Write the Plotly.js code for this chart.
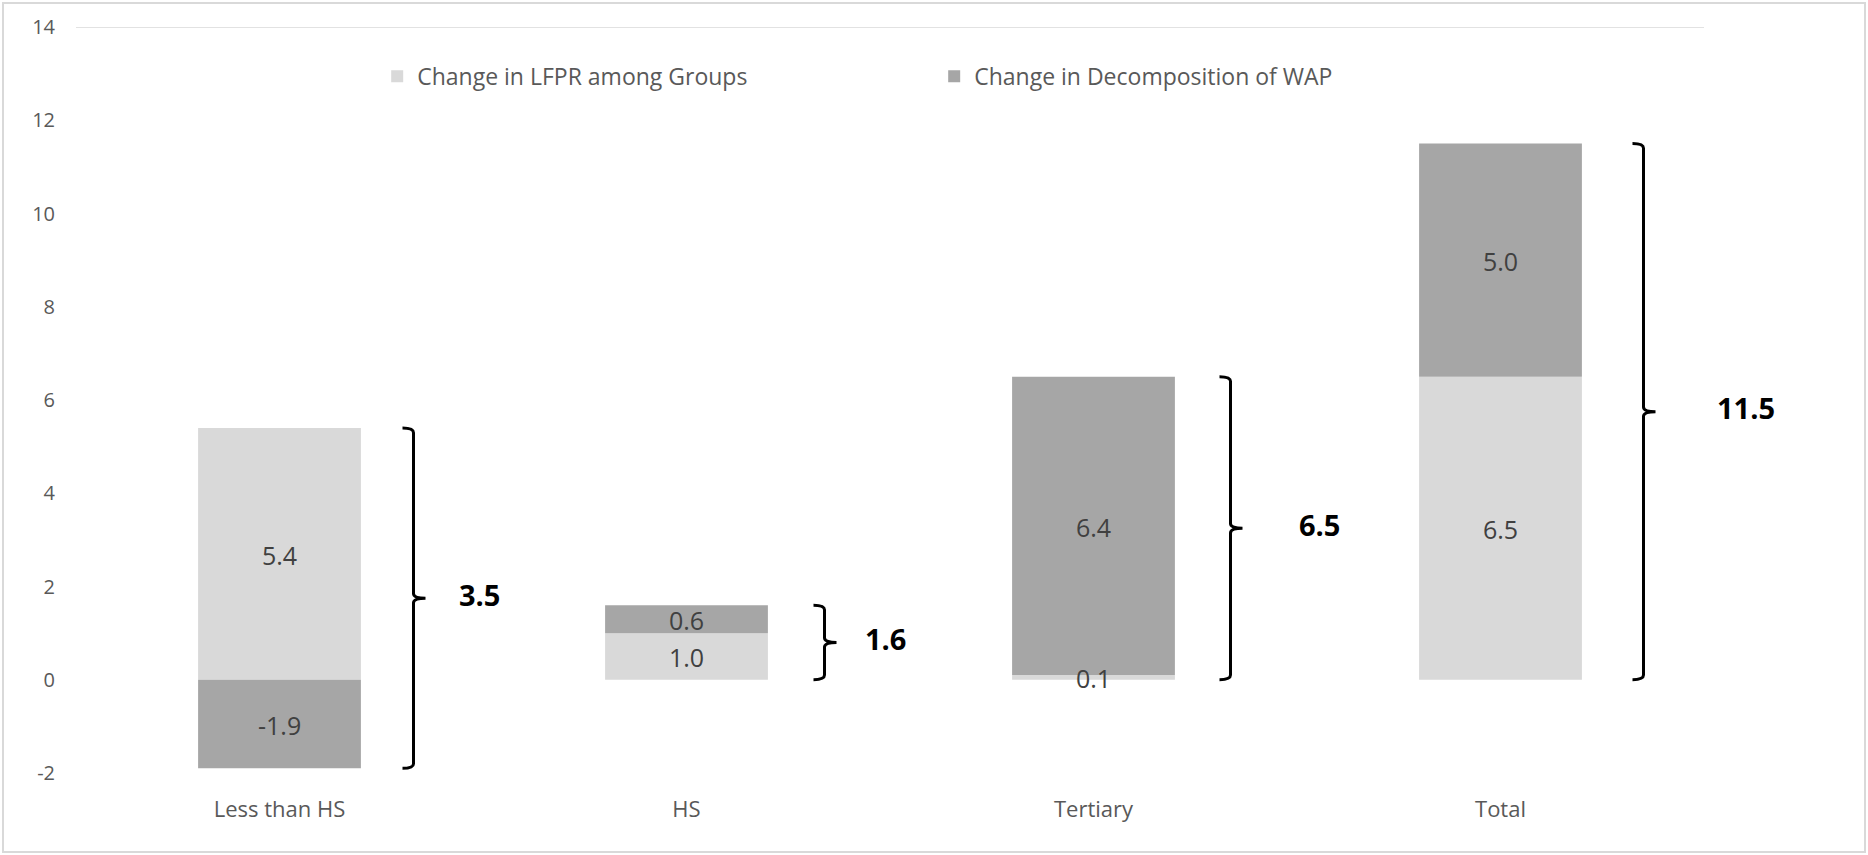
<!DOCTYPE html>
<html>
<head>
<meta charset="utf-8">
<script src="https://cdn.plot.ly/plotly-3.0.1.min.js"></script>
<style>
  html, body { margin: 0; padding: 0; background: #ffffff; }
  #wrap { position: relative; width: 1868px; height: 855px; }
  #chart { width: 1868px; height: 855px; }
  #frame { position: absolute; left: 2px; top: 2px; right: 2px; bottom: 2px;
           border: 2px solid #d9d9d9; pointer-events: none; box-sizing: border-box; }
</style>
</head>
<body>
<div id="wrap">
  <div id="chart"></div>
  <div id="frame"></div>
</div>
<script>
// ---- data ----
const categories = ["Less than HS", "HS", "Tertiary", "Total"];
const lfprChange = [5.4, 1.0, 0.1, 6.5];   // Change in LFPR among Groups
const wapChange  = [-1.9, 0.6, 6.4, 5.0];  // Change in Decomposition of WAP
const totals     = [3.5, 1.6, 6.5, 11.5];  // bracket totals
const seriesNames = ["Change in LFPR among Groups", "Change in Decomposition of WAP"];
const yTicks = [-2, 0, 2, 4, 6, 8, 10, 12, 14];

// ---- style ----
const FONT = "'Open Sans', 'Segoe UI', sans-serif";
const LIGHT = "#d9d9d9";
const DARK = "#a6a6a6";
const BRACE_PX = [134, 138, 137, 143];  // brace offset right of category centre (px)
const LABEL_SHIFT = [66, 61, 89, 102];  // pixel distance from brace to total label centre
const xIdx = categories.map((_, i) => i);

const traces = [
  {
    type: "bar", name: seriesNames[0], x: xIdx, y: lfprChange,
    marker: { color: LIGHT, line: { width: 0 } }, hoverinfo: "skip"
  },
  {
    type: "bar", name: seriesNames[1], x: xIdx, y: wapChange,
    marker: { color: DARK, line: { width: 0 } }, hoverinfo: "skip"
  }
];

const shapes = [
  { type: "line", xref: "paper", yref: "y", x0: 0, x1: 1, y0: 14, y1: 14,
    line: { color: "#d9d9d9", width: 1.5 }, layer: "below" }
];
const annotations = [];

// value labels at segment midpoints (relative stacking)
const posBase = xIdx.map(() => 0), negBase = xIdx.map(() => 0);
[lfprChange, wapChange].forEach(vals => {
  vals.forEach((v, i) => {
    let yMid;
    if (v >= 0) { yMid = posBase[i] + v / 2; posBase[i] += v; }
    else { yMid = negBase[i] + v / 2; negBase[i] += v; }
    annotations.push({
      x: i, y: yMid, xref: "x", yref: "y", yshift: -1,
      xanchor: "center", yanchor: "middle", showarrow: false,
      text: v.toFixed(1),
      font: { family: FONT, size: 25, color: "#404040" }
    });
  });
});

categories.forEach((c, i) => {
  const top = posBase[i], bot = negBase[i], mid = (top + bot) / 2;
  const d = 0.1, bx = BRACE_PX[i];
  const path = `M ${bx - 11},${top} Q ${bx},${top} ${bx},${top - d} L ${bx},${mid + d} ` +
               `Q ${bx},${mid} ${bx + 12},${mid} Q ${bx},${mid} ${bx},${mid - d} ` +
               `L ${bx},${bot + d} Q ${bx},${bot} ${bx - 11},${bot}`;
  shapes.push({
    type: "path", xref: "x", yref: "y", xsizemode: "pixel", xanchor: i,
    path: path, line: { color: "#000000", width: 3 }, fillcolor: "rgba(0,0,0,0)"
  });
  annotations.push({
    x: i, y: mid, xref: "x", yref: "y", xshift: bx + LABEL_SHIFT[i], yshift: 4,
    xanchor: "center", yanchor: "middle", showarrow: false,
    text: "<b>" + totals[i].toFixed(1) + "</b>",
    font: { family: FONT, size: 29, color: "#000000" }
  });
});

const layout = {
  width: 1868, height: 855,
  margin: { l: 76, r: 164, t: 27, b: 82, pad: 0 },
  paper_bgcolor: "#ffffff", plot_bgcolor: "#ffffff",
  barmode: "relative", bargap: 0.6,
  showlegend: true,
  legend: {
    orientation: "h", x: 0.185, xanchor: "left", y: 0.934, yanchor: "middle",
    font: { family: FONT, size: 23, color: "#595959" },
    entrywidthmode: "pixels", entrywidth: 512, traceorder: "normal",
    bgcolor: "rgba(0,0,0,0)"
  },
  xaxis: {
    range: [-0.5, 3.5], tickmode: "array", tickvals: xIdx, ticktext: categories,
    showgrid: false, zeroline: false, showline: false, ticks: "",
    ticklabelstandoff: 21,
    tickfont: { family: FONT, size: 22, color: "#595959" }, fixedrange: true
  },
  yaxis: {
    range: [-2, 14], tickmode: "array", tickvals: yTicks, ticktext: yTicks.map(String),
    showgrid: false, zeroline: false, showline: false, ticks: "",
    ticklabelstandoff: 20,
    tickfont: { family: FONT, size: 20, color: "#595959" }, fixedrange: true
  },
  shapes: shapes,
  annotations: annotations
};

Plotly.newPlot("chart", traces, layout, { staticPlot: true, displayModeBar: false });
</script>
</body>
</html>
